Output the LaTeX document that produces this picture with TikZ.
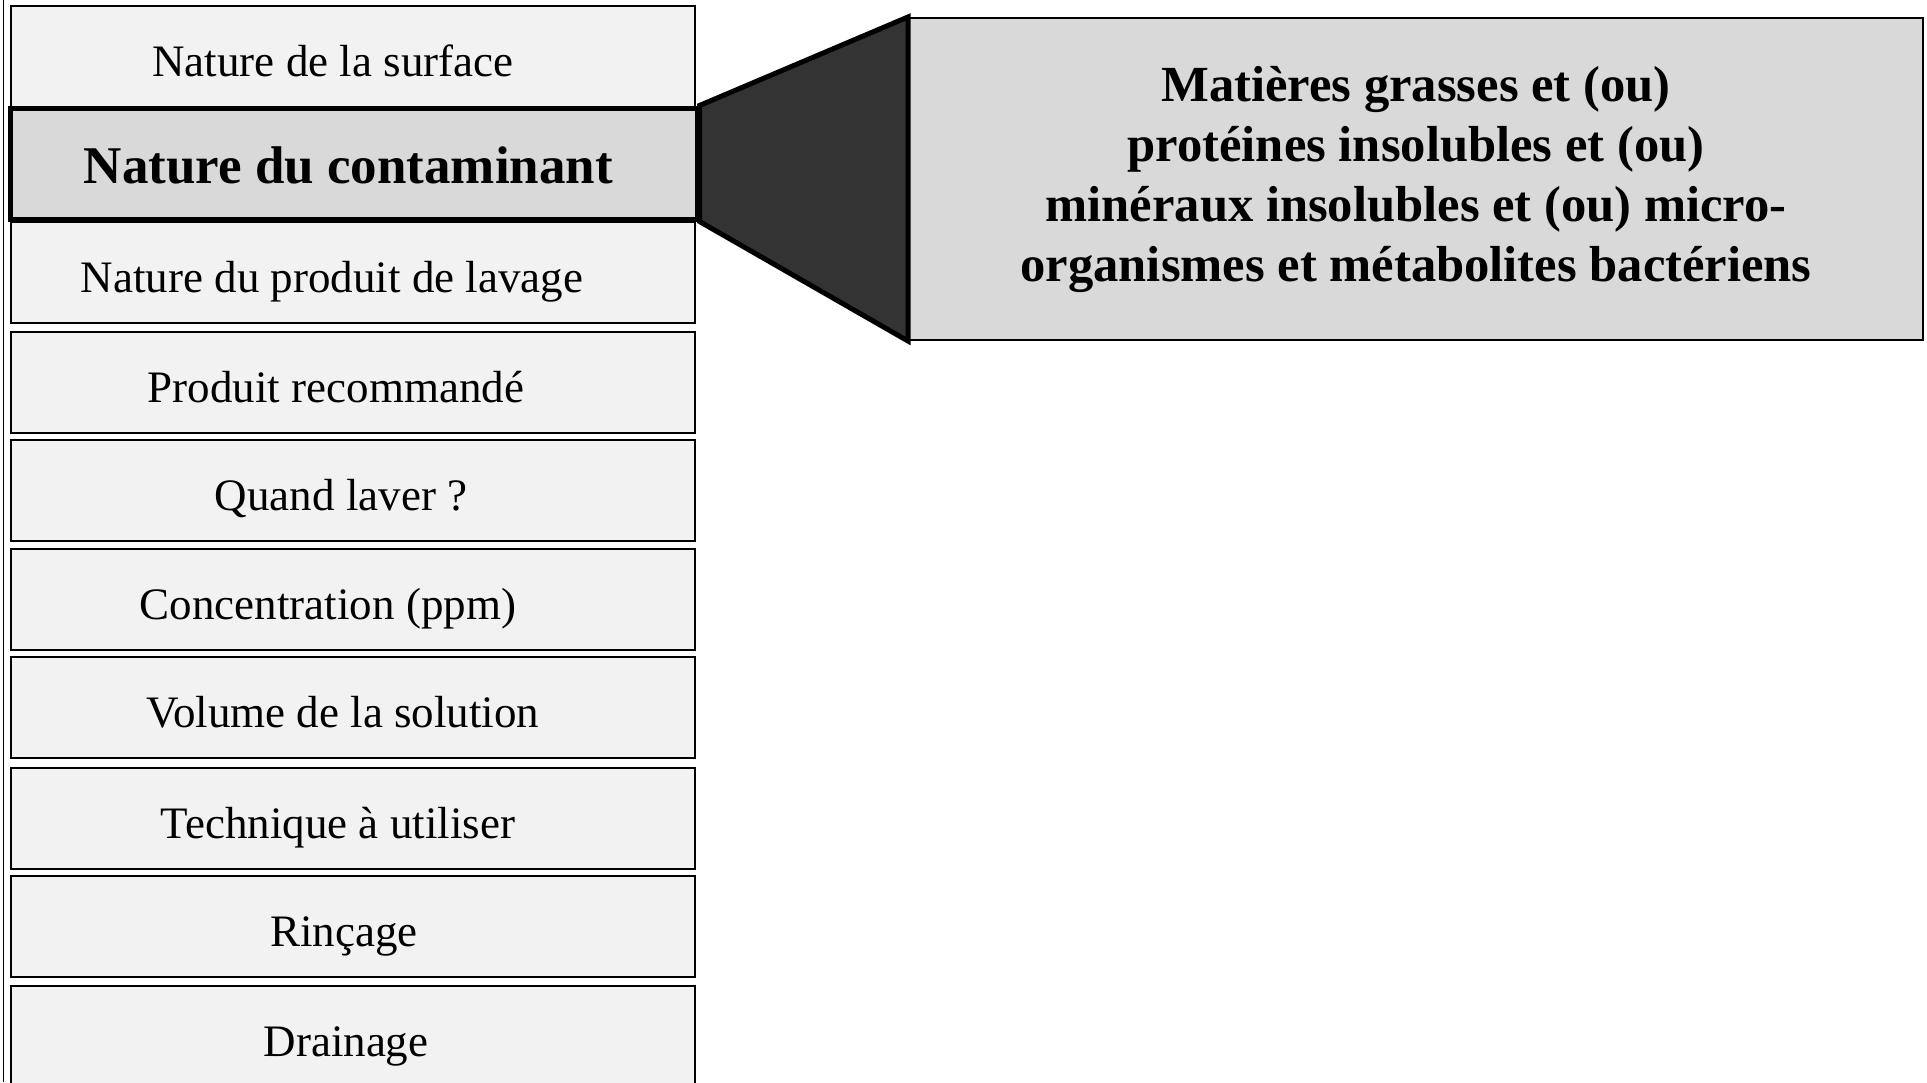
\documentclass[tikz,border=0pt]{standalone}
\usepackage{fontspec}
\setmainfont{Liberation Serif}
\usetikzlibrary{positioning}
\definecolor{cellgray}{HTML}{F2F2F2}
\definecolor{selgray}{HTML}{D9D9D9}
\definecolor{funnelgray}{HTML}{333333}
\tikzset{
  cell/.style={draw=black, line width=1pt, fill=cellgray, inner sep=0pt,
    minimum width=342pt, minimum height=50.5pt, text height=20pt, text depth=0pt,
    font=\fontsize{22.5}{27}\selectfont},
  selcell/.style={cell, fill=selgray, line width=2.5pt,
    minimum width=343.5pt, minimum height=55.5pt,
    font=\fontsize{26.5}{31}\selectfont\bfseries},
  textleft/.style={execute at end node={\hspace*{#1}}},
  detailbox/.style={draw=black, line width=1pt, fill=selgray, inner sep=0pt,
    minimum width=507pt, minimum height=161pt, align=center,
    font=\fontsize{25.3}{30}\selectfont\bfseries}
}

\begin{document}
% units are pixels of the original figure, y downwards
\begin{tikzpicture}[x=0.5pt, y=-0.5pt]
\useasboundingbox (0,0) rectangle (1927,1082);

\draw[line width=0.5pt] (3,0) -- (3,1082);

\node[cell, textleft=20pt] (surface) at (353,56) {Nature de la surface};
\node[selcell, textleft=5pt] (contaminant) at (353.5,163.5) {Nature du contaminant};
\node[cell, textleft=21pt] (lavage) at (353,272) {Nature du produit de lavage};
\node[cell, textleft=17pt] (produit) at (353,382.5) {Produit recommandé};
\node[cell, textleft=12pt] (quand) at (353,490.5) {Quand laver ?};
\node[cell, textleft=25pt] (concentration) at (353,599.5) {Concentration (ppm)};
\node[cell, textleft=10pt] (volume) at (353,707.5) {Volume de la solution};
\node[cell, textleft=15pt] (technique) at (353,818.5) {Technique à utiliser};
\node[cell, textleft=9pt] (rincage) at (353,926) {Rinçage};
\node[cell, textleft=7pt] (drainage) at (353,1036.5) {Drainage};

\node[detailbox] (detail) at (1416,179) {Matières grasses et (ou)\\
  protéines insolubles et (ou)\\
  minéraux insolubles et (ou) micro-\\
  organismes et métabolites bactériens};

% funnel from the selected cell to the detail box
\draw[line width=2.5pt, fill=funnelgray, line join=miter]
  (contaminant.north east) -- (detail.north west) -- (detail.south west)
  -- (contaminant.south east) -- cycle;

\end{tikzpicture}
\end{document}
